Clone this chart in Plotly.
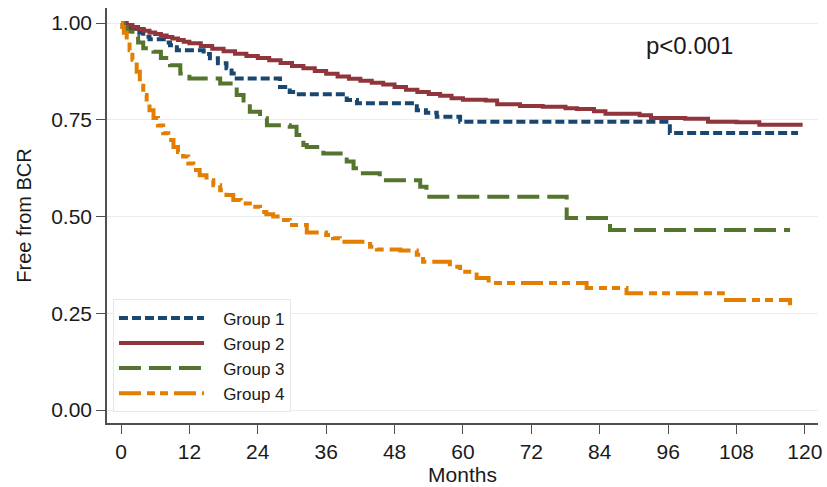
import plotly.graph_objects as go

# ---------------- data ----------------
g1_t = [0, 0.5, 1.6, 2.5, 3.9, 5, 7.5, 8.6, 9.8, 14.5, 15.6, 17, 18.5, 19.4, 20.3, 27.9,
        29.6, 30.2, 39.6, 41.4, 51.9, 53.5, 55.4, 59.5, 96.3, 118.8]
g1_s = [1.0, 0.993, 0.986, 0.975, 0.965, 0.958, 0.95, 0.943, 0.93, 0.92, 0.909, 0.896, 0.883,
        0.87, 0.857, 0.835, 0.822, 0.816, 0.801, 0.793, 0.775, 0.768, 0.758, 0.745, 0.716, 0.716]

g2_t = [0, 1, 2, 3, 4, 5, 6, 7, 8, 9, 10, 11, 12, 14, 16, 18, 20, 22, 24, 26, 28, 30, 32, 34,
        36, 38, 40, 42, 44, 46, 48, 50, 52, 54, 56, 58, 60, 64, 66, 70, 74, 78, 80, 83, 85,
        91, 93, 99, 103, 108, 112, 119.6]
g2_s = [1.0, 0.995, 0.99, 0.985, 0.98, 0.976, 0.972, 0.968, 0.964, 0.96, 0.956, 0.952, 0.948,
        0.941, 0.934, 0.927, 0.921, 0.915, 0.91, 0.904, 0.897, 0.889, 0.883, 0.876, 0.869,
        0.862, 0.856, 0.851, 0.846, 0.841, 0.835, 0.828, 0.822, 0.817, 0.812, 0.806, 0.802,
        0.8, 0.79, 0.786, 0.784, 0.78, 0.778, 0.772, 0.766, 0.762, 0.755, 0.753, 0.745,
        0.744, 0.737, 0.737]

g3_t = [0, 0.5, 1, 2, 3, 3.9, 5.7, 7, 8.6, 10.4, 12, 17.4, 20.3, 21.5, 22.6, 24.4, 25.6,
        29.6, 30.8, 32, 32.6, 35.5, 39.6, 40.8, 41.9, 45.4, 52.5, 53.6, 78.2, 85.8, 117.4]
g3_s = [1.0, 0.99, 0.978, 0.965, 0.95, 0.935, 0.926, 0.91, 0.891, 0.87, 0.857, 0.844, 0.814,
        0.792, 0.771, 0.754, 0.736, 0.732, 0.711, 0.685, 0.68, 0.663, 0.642, 0.625, 0.612,
        0.594, 0.577, 0.551, 0.496, 0.465, 0.465]

g4_t = [0, 0.2, 0.5, 1, 1.5, 2, 2.75, 3.3, 3.9, 4.5, 5, 5.7, 6.5, 7.4, 8.3, 9.2, 10, 10.9,
        11.8, 12.7, 13.8, 15, 16.2, 17.4, 18.5, 19.7, 21, 22.6, 24.4, 25.5, 26.7, 28, 29.6,
        32.6, 36, 37.2, 38.4, 43.7, 44.9, 49, 51.9, 53, 57.7, 59.5, 62.4, 64.5, 81.7, 88.7,
        105.6, 117.4]
g4_s = [1.0, 0.99, 0.975, 0.952, 0.93, 0.905, 0.874, 0.845, 0.814, 0.79, 0.775, 0.755, 0.735,
        0.715, 0.698, 0.68, 0.667, 0.655, 0.637, 0.62, 0.607, 0.594, 0.581, 0.568, 0.556,
        0.543, 0.534, 0.525, 0.512, 0.506, 0.5, 0.491, 0.478, 0.459, 0.452, 0.444, 0.435,
        0.422, 0.415, 0.412, 0.401, 0.383, 0.37, 0.357, 0.341, 0.328, 0.315, 0.302, 0.284,
        0.271]

group_names = ["Group 1", "Group 2", "Group 3", "Group 4"]
x_ticks = [0, 12, 24, 36, 48, 60, 72, 84, 96, 108, 120]
y_ticks = [0.0, 0.25, 0.5, 0.75, 1.0]
y_tick_labels = ["0.00", "0.25", "0.50", "0.75", "1.00"]

# ---------------- styling ----------------
colors = ["#1a476f", "#90353b", "#55752f", "#e37e00"]
dashes = ["9px,4px", "solid", "22px,8px", "22px,6px,8px,5px,8px,6px"]
FONT = "Arial, Liberation Sans, sans-serif"
TXT = "#1a1a1a"
AX = "#505050"
PAD = "\u00a0\u00a0\u00a0"

fig = go.Figure()
series = [(g1_t, g1_s), (g2_t, g2_s), (g3_t, g3_s), (g4_t, g4_s)]
for (t, s), name, c, d in zip(series, group_names, colors, dashes):
    fig.add_trace(go.Scatter(
        x=t, y=s, mode="lines", name=PAD + name, line_shape="hv",
        line=dict(color=c, width=4, dash=d),
    ))

fig.add_annotation(x=99.8, y=0.943, xref="x", yref="y", text="p<0.001",
                   showarrow=False, font=dict(family=FONT, size=24, color=TXT))

fig.update_layout(
    width=827, height=487,
    margin=dict(l=107, r=9, t=8, b=64, autoexpand=False),
    paper_bgcolor="white", plot_bgcolor="white",
    font=dict(family=FONT, size=20, color=TXT),
    showlegend=True,
    legend=dict(
        x=0.0084, y=0.298, xanchor="left", yanchor="top",
        bgcolor="white", bordercolor="#e4e8ec", borderwidth=1,
        font=dict(family=FONT, size=17, color=TXT),
        itemwidth=85, tracegroupgap=0,
    ),
    xaxis=dict(
        range=[-2.46, 122.3], tickmode="array", tickvals=x_ticks,
        showgrid=False, zeroline=False, automargin=False,
        showline=True, linecolor=AX, linewidth=1.5,
        ticks="outside", ticklen=9, tickcolor=AX, tickwidth=1.2,
        tickfont=dict(family=FONT, size=21, color=TXT),
        title=dict(text="Months", font=dict(family=FONT, size=21, color=TXT), standoff=0),
    ),
    yaxis=dict(
        range=[-0.0336, 1.039], tickmode="array", tickvals=y_ticks, ticktext=y_tick_labels,
        showgrid=True, gridcolor="#e6eef0", gridwidth=1.2, zeroline=False, automargin=False,
        showline=True, linecolor=AX, linewidth=1.5,
        ticks="outside", ticklen=9, tickcolor=AX, tickwidth=1.2,
        tickfont=dict(family=FONT, size=21, color=TXT),
        title=dict(text="Free from BCR", font=dict(family=FONT, size=20, color=TXT), standoff=14),
    ),
)

fig.write_html("out.html", config={"displayModeBar": False},
               post_script="document.body.style.margin='0';")
